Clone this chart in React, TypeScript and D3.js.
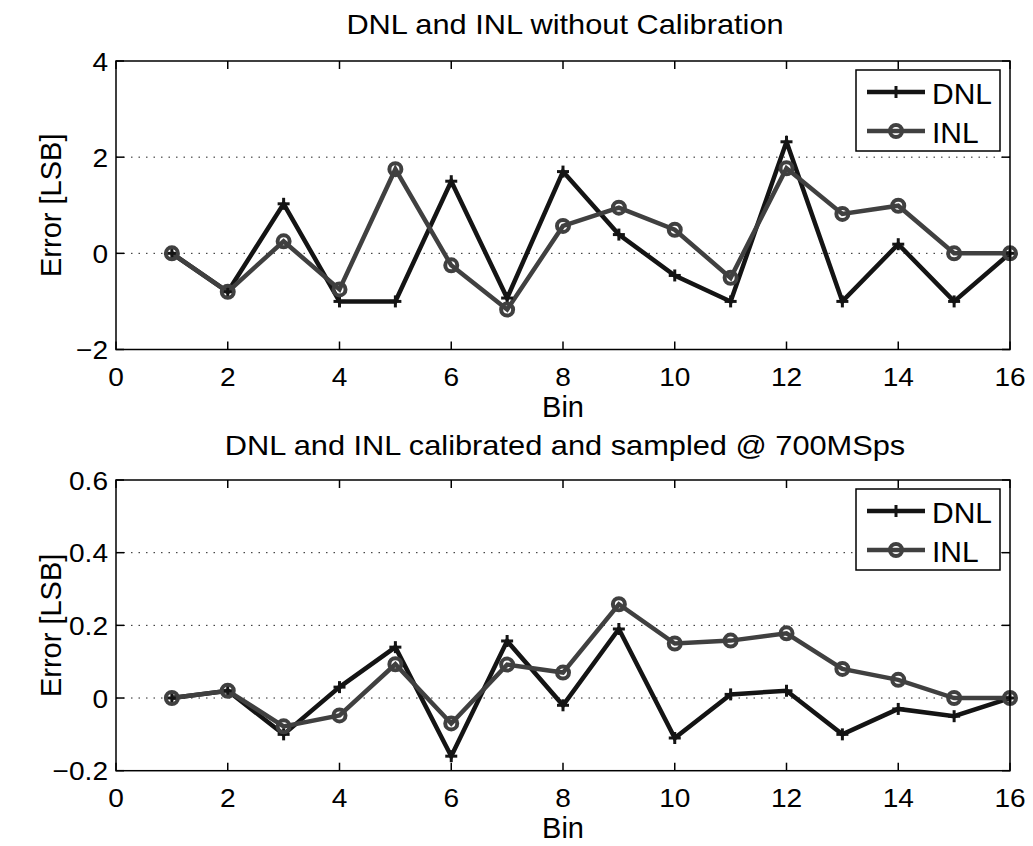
import React from "react";
import * as d3 from "d3";

const bins = [1, 2, 3, 4, 5, 6, 7, 8, 9, 10, 11, 12, 13, 14, 15, 16];

const dnlRaw = [0, -0.8, 1.03, -1, -1, 1.5, -0.93, 1.7, 0.39, -0.46, -1, 2.32, -1, 0.19, -1, 0];
const inlRaw = [0, -0.8, 0.25, -0.75, 1.75, -0.25, -1.17, 0.57, 0.95, 0.49, -0.51, 1.77, 0.82, 0.99, 0, 0];

const dnlCal = [0, 0.02, -0.1, 0.03, 0.14, -0.16, 0.157, -0.02, 0.19, -0.11, 0.01, 0.02, -0.1, -0.03, -0.05, 0];
const inlCal = [0, 0.02, -0.078, -0.048, 0.093, -0.07, 0.092, 0.07, 0.258, 0.15, 0.158, 0.178, 0.08, 0.05, 0, 0];

const xTicks = [0, 2, 4, 6, 8, 10, 12, 14, 16];
const yTicksTop = [-2, 0, 2, 4];
const yTicksBottom = [-0.2, 0, 0.2, 0.4, 0.6];

const titleTop = "DNL and INL without Calibration";
const titleBottom = "DNL and INL calibrated and sampled @ 700MSps";
const xLabel = "Bin";
const yLabel = "Error [LSB]";
const seriesNames = ["DNL", "INL"];

const FONT = "'Liberation Sans', Arial, Helvetica, sans-serif";
const DNL_COLOR = "#141414";
const INL_COLOR = "#404040";

const fmt = (v: number) => {
  if (Math.abs(v) < 1e-9) return "0";
  const s = String(Math.round(v * 10) / 10);
  return s.startsWith("-") ? "\u2212" + s.slice(1) : s;
};

type TProps = {
  x: number;
  y: number;
  size: number;
  sx?: number;
  anchor?: "start" | "middle" | "end";
  rotate?: number;
  children: React.ReactNode;
};

function T({ x, y, size, sx = 1, anchor = "start", rotate = 0, children }: TProps) {
  const tr = `translate(${x},${y})` + (rotate ? ` rotate(${rotate})` : "") + (sx !== 1 ? ` scale(${sx},1)` : "");
  return (
    <text transform={tr} textAnchor={anchor} fontSize={size} fontFamily={FONT} fill="#000">
      {children}
    </text>
  );
}

type PanelProps = {
  top: number;
  bottom: number;
  yDomain: [number, number];
  yTicks: number[];
  dnl: number[];
  inl: number[];
  title: string;
  titleY: number;
};

function Panel({ top, bottom, yDomain, yTicks, dnl, inl, title, titleY }: PanelProps) {
  const left = 116;
  const right = 1010;
  const x = d3.scaleLinear().domain([0, 16]).range([left, right]);
  const y = d3.scaleLinear().domain(yDomain).range([bottom, top]);
  const line = d3
    .line<number>()
    .x((_, i) => x(bins[i]))
    .y((d) => y(d));
  const tickLen = 8;
  const cy = (top + bottom) / 2;
  const lx = 856;
  const ly = top + 9;
  const lw = 144;
  const lh = 81;
  const row1 = ly + 22;
  const row2 = ly + 61;
  return (
    <g>
      <T x={(left + right) / 2 + 2} y={titleY} size={27} sx={1.14} anchor="middle">
        {title}
      </T>
      {/* grid */}
      {yTicks
        .filter((t) => t !== yDomain[0] && t !== yDomain[1])
        .map((t) => (
          <line key={"g" + t} x1={left} x2={right} y1={y(t)} y2={y(t)} stroke="#222" strokeWidth={1} strokeDasharray="1.5,6" />
        ))}
      {/* ticks */}
      {xTicks.map((t) => (
        <g key={"x" + t}>
          <line x1={x(t)} x2={x(t)} y1={bottom} y2={bottom - tickLen} stroke="#000" strokeWidth={1.5} />
          <line x1={x(t)} x2={x(t)} y1={top} y2={top + tickLen} stroke="#000" strokeWidth={1.5} />
          <T x={x(t)} y={bottom + 36} size={26.5} sx={1.06} anchor="middle">
            {fmt(t)}
          </T>
        </g>
      ))}
      {yTicks.map((t) => (
        <g key={"y" + t}>
          <line x1={left} x2={left + tickLen} y1={y(t)} y2={y(t)} stroke="#000" strokeWidth={1.5} />
          <line x1={right} x2={right - tickLen} y1={y(t)} y2={y(t)} stroke="#000" strokeWidth={1.5} />
          <T x={left - 8} y={y(t) + 9.5} size={26.5} sx={1.06} anchor="end">
            {fmt(t)}
          </T>
        </g>
      ))}
      <T x={(left + right) / 2} y={bottom + 67.5} size={29} anchor="middle">
        {xLabel}
      </T>
      <T x={61} y={cy} size={29} rotate={-90} anchor="middle">
        {yLabel}
      </T>
      {/* series */}
      <path d={line(dnl) || ""} fill="none" stroke={DNL_COLOR} strokeWidth={4.5} strokeLinejoin="miter" />
      <path d={line(inl) || ""} fill="none" stroke={INL_COLOR} strokeWidth={4.5} strokeLinejoin="miter" />
      {dnl.map((v, i) => (
        <g key={"dp" + i} stroke={DNL_COLOR} strokeWidth={3}>
          <line x1={x(bins[i]) - 6} x2={x(bins[i]) + 6} y1={y(v)} y2={y(v)} />
          <line x1={x(bins[i])} x2={x(bins[i])} y1={y(v) - 6} y2={y(v) + 6} />
        </g>
      ))}
      {inl.map((v, i) => (
        <circle key={"ic" + i} cx={x(bins[i])} cy={y(v)} r={6} fill="none" stroke={INL_COLOR} strokeWidth={4} />
      ))}
      {/* box */}
      <rect x={left} y={top} width={right - left} height={bottom - top} fill="none" stroke="#000" strokeWidth={1.5} />
      {/* legend */}
      <rect x={lx} y={ly} width={lw} height={lh} fill="#fff" stroke="#000" strokeWidth={1.5} />
      <line x1={lx + 11} x2={lx + 69} y1={row1} y2={row1} stroke={DNL_COLOR} strokeWidth={4.5} />
      <line x1={lx + 40} x2={lx + 40} y1={row1 - 6} y2={row1 + 6} stroke={DNL_COLOR} strokeWidth={3} />
      <line x1={lx + 11} x2={lx + 69} y1={row2} y2={row2} stroke={INL_COLOR} strokeWidth={4.5} />
      <circle cx={lx + 40} cy={row2} r={6} fill="none" stroke={INL_COLOR} strokeWidth={4} />
      <T x={lx + 76} y={row1 + 11.5} size={30}>
        {seriesNames[0]}
      </T>
      <T x={lx + 76} y={row2 + 11.5} size={30}>
        {seriesNames[1]}
      </T>
    </g>
  );
}

export default function App() {
  return (
    <svg width={1033} height={846} style={{ display: "block", position: "absolute", left: 0, top: 0, background: "#fff" }}>
      <rect x={0} y={0} width={1033} height={846} fill="#fff" />
      <Panel top={61} bottom={349.5} yDomain={[-2, 4]} yTicks={yTicksTop} dnl={dnlRaw} inl={inlRaw} title={titleTop} titleY={34} />
      <Panel
        top={480}
        bottom={770.7}
        yDomain={[-0.2, 0.6]}
        yTicks={yTicksBottom}
        dnl={dnlCal}
        inl={inlCal}
        title={titleBottom}
        titleY={455}
      />
    </svg>
  );
}
